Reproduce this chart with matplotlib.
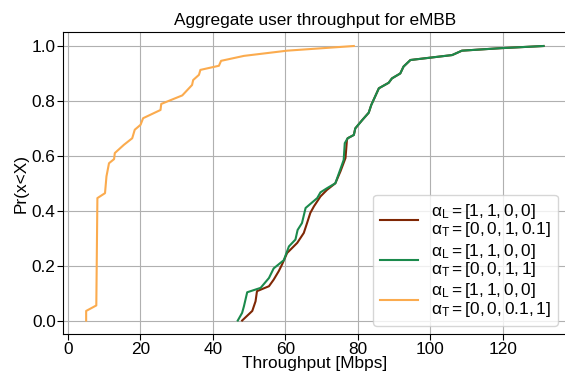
import matplotlib
matplotlib.use('Agg')
import matplotlib.pyplot as plt

plt.rcParams['font.family'] = ['Liberation Sans', 'DejaVu Sans']
plt.rcParams['mathtext.fontset'] = 'custom'
plt.rcParams['mathtext.rm'] = 'Liberation Sans'
plt.rcParams['mathtext.it'] = 'Liberation Sans'
plt.rcParams['mathtext.default'] = 'regular'

FS = 12.4

# CDF points (throughput in Mbps, probability)
brown_x = [48.1, 50.9, 51.8, 52.2, 55.5, 56.8, 58.2, 59.1, 60.5, 63.3, 65.1, 66.0,
           66.9, 67.9, 69.7, 71.5, 73.8, 75.2, 76.6, 77.0, 77.2, 78.9, 79.3, 81.2,
           83.0, 83.7, 85.8, 88.5, 89.4, 91.7, 92.6, 94.5, 100.9, 106.0, 108.7,
           119.3, 131.2]
brown_y = [0.0, 0.035, 0.07, 0.107, 0.125, 0.149, 0.18, 0.204, 0.246, 0.283, 0.319,
           0.355, 0.392, 0.416, 0.452, 0.476, 0.50, 0.543, 0.592, 0.658, 0.664, 0.676,
           0.70, 0.73, 0.757, 0.785, 0.846, 0.866, 0.882, 0.90, 0.925, 0.949, 0.959,
           0.967, 0.983, 0.992, 1.0]

green_x = [46.9, 48.1, 48.6, 49.5, 53.2, 55.5, 56.8, 59.6, 61.0, 62.8, 63.4, 64.6,
           65.6, 68.8, 69.7, 71.5, 73.8, 76.1, 76.4, 77.2, 78.9, 79.3, 81.2, 83.0,
           83.7, 85.8, 88.5, 89.4, 91.7, 92.6, 94.5, 100.9, 106.0, 108.7, 119.3, 131.2]
green_y = [0.0, 0.028, 0.052, 0.103, 0.119, 0.155, 0.19, 0.22, 0.27, 0.295, 0.33,
           0.355, 0.41, 0.446, 0.467, 0.482, 0.50, 0.585, 0.646, 0.664, 0.676, 0.70,
           0.73, 0.757, 0.785, 0.846, 0.866, 0.882, 0.90, 0.925, 0.949, 0.959, 0.967,
           0.983, 0.992, 1.0]

orange_x = [5.1, 5.1, 7.9, 8.2, 10.3, 10.7, 11.4, 12.8, 13.0, 15.5, 17.8, 18.5, 20.1,
            20.8, 25.6, 25.8, 31.6, 34.3, 34.6, 36.2, 36.6, 41.7, 42.3, 48.6, 60.5, 78.9]
orange_y = [0.0, 0.035, 0.055, 0.446, 0.464, 0.525, 0.573, 0.588, 0.61, 0.64, 0.664,
            0.695, 0.713, 0.737, 0.767, 0.789, 0.82, 0.858, 0.876, 0.895, 0.913, 0.928,
            0.946, 0.964, 0.983, 1.0]

labels = [r'$\alpha_L = [1, 1, 0, 0]$' + '\n' + r'$\alpha_T = [0, 0, 1, 0.1]$',
          r'$\alpha_L = [1, 1, 0, 0]$' + '\n' + r'$\alpha_T = [0, 0, 1, 1]$',
          r'$\alpha_L = [1, 1, 0, 0]$' + '\n' + r'$\alpha_T = [0, 0, 0.1, 1]$']

fig = plt.figure(figsize=(5.65, 3.71), dpi=100)
ax = fig.add_axes([0.112, 0.099, 0.8905, 0.814])

ax.plot(brown_x, brown_y, color='#7f2704', lw=1.5, label=labels[0])
ax.plot(green_x, green_y, color='#1b8a4c', lw=1.5, label=labels[1])
ax.plot(orange_x, orange_y, color='#fbab4e', lw=1.5, label=labels[2])

ax.set_title('Aggregate user throughput for eMBB', fontsize=FS, pad=5)
ax.set_xlabel('Throughput [Mbps]', fontsize=FS, labelpad=-1)
ax.set_ylabel('Pr(x<X)', fontsize=FS, labelpad=2)
ax.tick_params(labelsize=FS, length=4, pad=1.5)
ax.grid(True, color='#b0b0b0', lw=0.8)
leg = ax.legend(loc='lower right', fontsize=FS, handlelength=2.2,
                labelspacing=0.15, handletextpad=0.75)
for t in leg.get_texts():
    t.set_linespacing(0.95)

plt.savefig('out.png', dpi=100)
